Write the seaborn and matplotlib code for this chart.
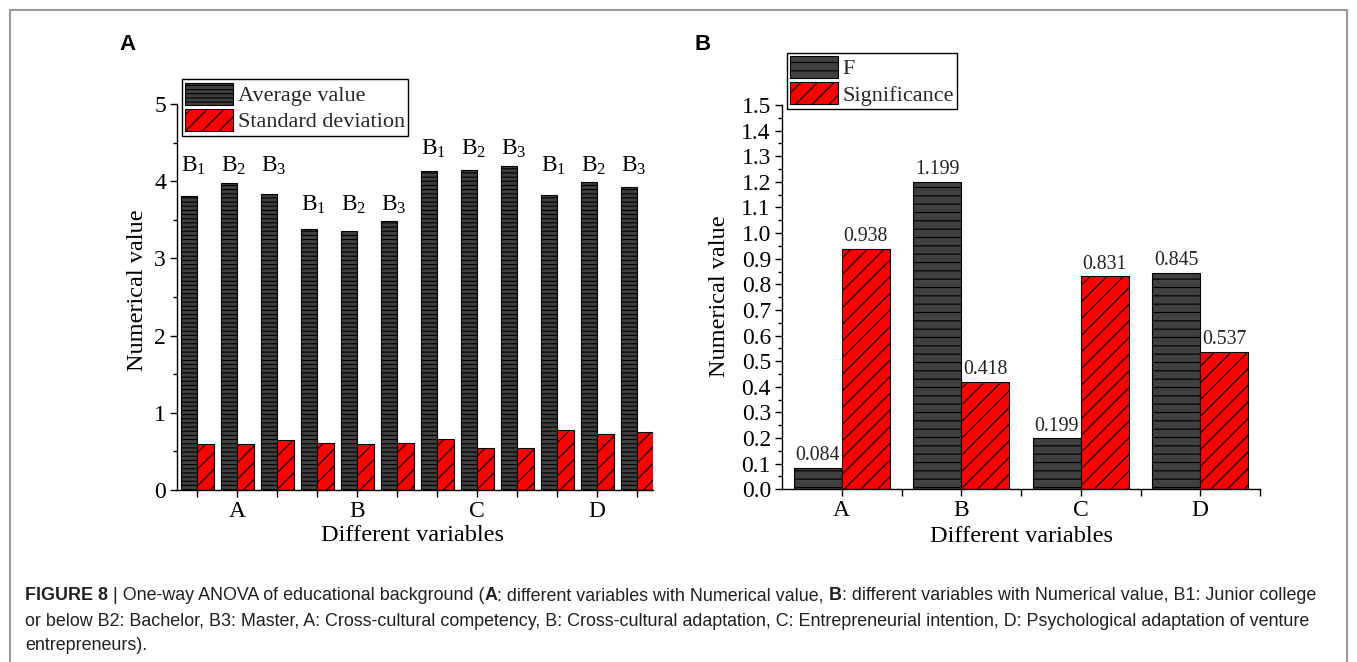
import numpy as np
import pandas as pd
import matplotlib
matplotlib.use("Agg")
import matplotlib.pyplot as plt
import matplotlib.patches as mpatches
from matplotlib.ticker import FormatStrFormatter, FixedLocator
import seaborn as sns

# ---------------- data ----------------
variables = ["A", "B", "C", "D"]
levels = ["B1", "B2", "B3"]
level_labels = [r"B$_{\mathrm{1}}$", r"B$_{\mathrm{2}}$", r"B$_{\mathrm{3}}$"]
avg_values = [3.81, 3.98, 3.84, 3.385, 3.355, 3.48, 4.13, 4.145, 4.20, 3.82, 3.985, 3.92]
sd_values = [0.59, 0.59, 0.645, 0.61, 0.59, 0.61, 0.665, 0.545, 0.545, 0.775, 0.725, 0.755]
measures_a = ["Average value", "Standard deviation"]

f_values = [0.084, 1.199, 0.199, 0.845]
sig_values = [0.938, 0.418, 0.831, 0.537]
measures_b = ["F", "Significance"]

# ---------------- style ----------------
sns.set_theme(style="white")
plt.rcParams["font.family"] = ["Liberation Serif", "DejaVu Serif"]
plt.rcParams["mathtext.fontset"] = "custom"
plt.rcParams["mathtext.rm"] = "Liberation Serif"
plt.rcParams["mathtext.it"] = "Liberation Serif:italic"
plt.rcParams["hatch.linewidth"] = 0.8
plt.rcParams["hatch.color"] = "black"

W, H = 1357, 662
fig = plt.figure(figsize=(W / 100, H / 100), dpi=100)
fig.patch.set_facecolor("white")

dark = "#404040"
red = "#ff0000"
TICK = 17
LABEL = 17.5
LEG = 16

def px_axes(left, right, top, bottom):
    return fig.add_axes([left / W, 1 - bottom / H, (right - left) / W, (bottom - top) / H])

# ---------------- panel A ----------------
groups = [f"{v}-{l}" for v in variables for l in levels]
dfA = pd.DataFrame({
    "group": groups * 2,
    "value": avg_values + sd_values,
    "measure": [measures_a[0]] * len(groups) + [measures_a[1]] * len(groups),
})

axA = px_axes(177, 653, 79.3, 490)
sns.barplot(data=dfA, x="group", y="value", hue="measure", order=groups,
            hue_order=measures_a, palette=[dark, red], width=0.825, gap=0,
            edgecolor="black", linewidth=0.8, errorbar=None, saturation=1,
            legend=False, ax=axA)
for cont, h in zip(axA.containers, ["----", "//"]):
    for bar in cont:
        bar.set_hatch(h)

axA.set_xlim(-0.5, 11.4)
axA.set_ylim(0, 5.32)
axA.spines["top"].set_visible(False)
axA.spines["right"].set_visible(False)
axA.spines["left"].set_bounds(0, 5)
for s in ["left", "bottom"]:
    axA.spines[s].set_color("black")
    axA.spines[s].set_linewidth(1.0)
axA.set_xticks(range(len(groups)))
axA.set_xticklabels(["" if i % 3 != 1 else variables[i // 3] for i in range(len(groups))])
axA.yaxis.set_major_locator(FixedLocator([0, 1, 2, 3, 4, 5]))
axA.yaxis.set_minor_locator(FixedLocator([0.5, 1.5, 2.5, 3.5, 4.5]))
axA.tick_params(axis="both", which="major", direction="out", length=5, width=1,
                color="black", labelsize=TICK, labelcolor="black", pad=3,
                bottom=True, left=True)
axA.tick_params(axis="y", which="minor", direction="out", length=3, width=1,
                color="black", left=True)
axA.set_xlabel("Different variables", fontsize=LABEL, color="black")
axA.set_ylabel("Numerical value", fontsize=LABEL, color="black")
axA.xaxis.set_label_coords(0.494, -0.11)
axA.xaxis.label.set_va("center")
axA.yaxis.set_label_coords(-0.084, 0.487)
axA.yaxis.label.set_va("center")

# B1/B2/B3 labels above black bars
for vi, v in enumerate(variables):
    top = max(avg_values[vi * 3:(vi + 1) * 3])
    for li, lab in enumerate(level_labels):
        gi = vi * 3 + li
        xc = gi - 0.825 / 4 + 0.13
        axA.text(xc, top + 0.22, lab, ha="center", va="center", fontsize=17, color="black")

legA = axA.legend(axA.containers, measures_a, loc="upper left",
                  bbox_to_anchor=(0.0105, 1.0), borderaxespad=0, fontsize=LEG,
                  frameon=True, fancybox=False, framealpha=1, edgecolor="black",
                  handlelength=2.15, handleheight=1.15, handletextpad=0.2,
                  labelspacing=0.12, borderpad=0.15)
legA.get_frame().set_linewidth(1.0)

# ---------------- panel B ----------------
dfB = pd.DataFrame({
    "variable": variables * 2,
    "value": f_values + sig_values,
    "measure": [measures_b[0]] * 4 + [measures_b[1]] * 4,
})
axB = px_axes(782, 1260, 52.5, 489.3)
sns.barplot(data=dfB, x="variable", y="value", hue="measure", order=variables,
            hue_order=measures_b, palette=[dark, red], width=0.8, gap=0,
            edgecolor="black", linewidth=0.8, errorbar=None, saturation=1,
            legend=False, ax=axB)
for cont, h in zip(axB.containers, ["--", "//"]):
    for bar in cont:
        bar.set_hatch(h)
    axB.bar_label(cont, fmt="%.3f", padding=2, fontsize=14.3, color="#222222")

axB.set_xlim(-0.5, 3.5)
axB.set_ylim(0, 1.705)
axB.spines["top"].set_visible(False)
axB.spines["right"].set_visible(False)
axB.spines["left"].set_bounds(0, 1.5)
for s in ["left", "bottom"]:
    axB.spines[s].set_color("black")
    axB.spines[s].set_linewidth(1.0)
axB.set_xticks(range(4))
axB.set_xticklabels(variables)
axB.xaxis.set_minor_locator(FixedLocator([0.5, 1.5, 2.5, 3.5]))
axB.yaxis.set_major_locator(FixedLocator(np.round(np.arange(0, 1.51, 0.1), 2)))
axB.yaxis.set_minor_locator(FixedLocator(np.round(np.arange(0.05, 1.5, 0.1), 3)))
axB.yaxis.set_major_formatter(FormatStrFormatter("%.1f"))
axB.tick_params(axis="both", which="major", direction="out", length=5, width=1,
                color="black", labelsize=TICK, labelcolor="black", pad=3,
                bottom=True, left=True)
axB.tick_params(axis="both", which="minor", direction="out", length=3, width=1,
                color="black", left=True, bottom=True)
axB.tick_params(axis="x", which="minor", length=5)
axB.set_xlabel("Different variables", fontsize=LABEL, color="black")
axB.set_ylabel("Numerical value", fontsize=LABEL, color="black")
axB.xaxis.set_label_coords(0.5, -0.109)
axB.xaxis.label.set_va("center")
axB.yaxis.set_label_coords(-0.13, 0.4425)
axB.yaxis.label.set_va("center")

legB = axB.legend(axB.containers, measures_b, loc="upper left",
                  bbox_to_anchor=(0.0105, 1.0), borderaxespad=0, fontsize=LEG,
                  frameon=True, fancybox=False, framealpha=1, edgecolor="black",
                  handlelength=2.15, handleheight=1.15, handletextpad=0.2,
                  labelspacing=0.12, borderpad=0.15)
legB.get_frame().set_linewidth(1.0)

# ---------------- panel letters ----------------
fig.text(127 / W, 1 - 44 / H, "A", fontsize=16, fontweight="bold",
         family="Liberation Sans", ha="center", va="center", color="black")
fig.text(703 / W, 1 - 44 / H, "B", fontsize=16, fontweight="bold",
         family="Liberation Sans", ha="center", va="center", color="black")

# ---------------- frame ----------------
fig.add_artist(mpatches.Rectangle((9.5 / W, -0.1), (1346.5 - 9.5) / W, 1.1 - 10 / H,
                                  transform=fig.transFigure, fill=False,
                                  edgecolor="#9a9a9a", linewidth=1.5))

# ---------------- caption ----------------
renderer = fig.canvas.get_renderer()
cap_color = "#231f20"
cap_lines = [
    [("FIGURE 8", "bold"), (" | One-way ANOVA of educational background (", "normal"),
     ("A", "bold"), (": different variables with Numerical value,", "normal"), (" ", "space"),
     ("B", "bold"), (": different variables with Numerical value, B1: Junior college", "normal")],
    [("or below B2: Bachelor, B3: Master, A: Cross-cultural competency, B: Cross-cultural adaptation, "
      "C: Entrepreneurial intention, D: Psychological adaptation of venture", "normal")],
    [("entrepreneurs).", "normal")],
]
cap_y = [596, 621, 646]

def text_w(s, size, weight):
    t = fig.text(0, 0, s, fontsize=size, fontweight=weight, family="Liberation Sans")
    w = t.get_window_extent(renderer=renderer).width
    t.remove()
    return w

def space_w(size):
    return text_w("x x", size, "normal") - text_w("xx", size, "normal")

def seg_width(segs, size):
    tot = 0
    for s, wgt in segs:
        if wgt == "space":
            tot += space_w(size)
        else:
            lead = len(s) - len(s.lstrip(" "))
            tot += lead * space_w(size) + text_w(s.lstrip(" "), size, wgt)
    return tot

base = 12
w1 = seg_width(cap_lines[0], base)
w2 = seg_width(cap_lines[1], base)
cap_size = base * ((1333 - 25) + (1287 - 25)) / (w1 + w2)

for segs, yy in zip(cap_lines, cap_y):
    x = 25
    for s, wgt in segs:
        if wgt == "space":
            x += space_w(cap_size)
            continue
        lead = len(s) - len(s.lstrip(" "))
        x += lead * space_w(cap_size)
        s2 = s.lstrip(" ")
        t = fig.text(x / W, 1 - yy / H, s2, fontsize=cap_size, fontweight=wgt,
                     family="Liberation Sans", ha="left", va="center", color=cap_color)
        x += t.get_window_extent(renderer=renderer).width

fig.savefig("out.png", dpi=100, facecolor="white")
